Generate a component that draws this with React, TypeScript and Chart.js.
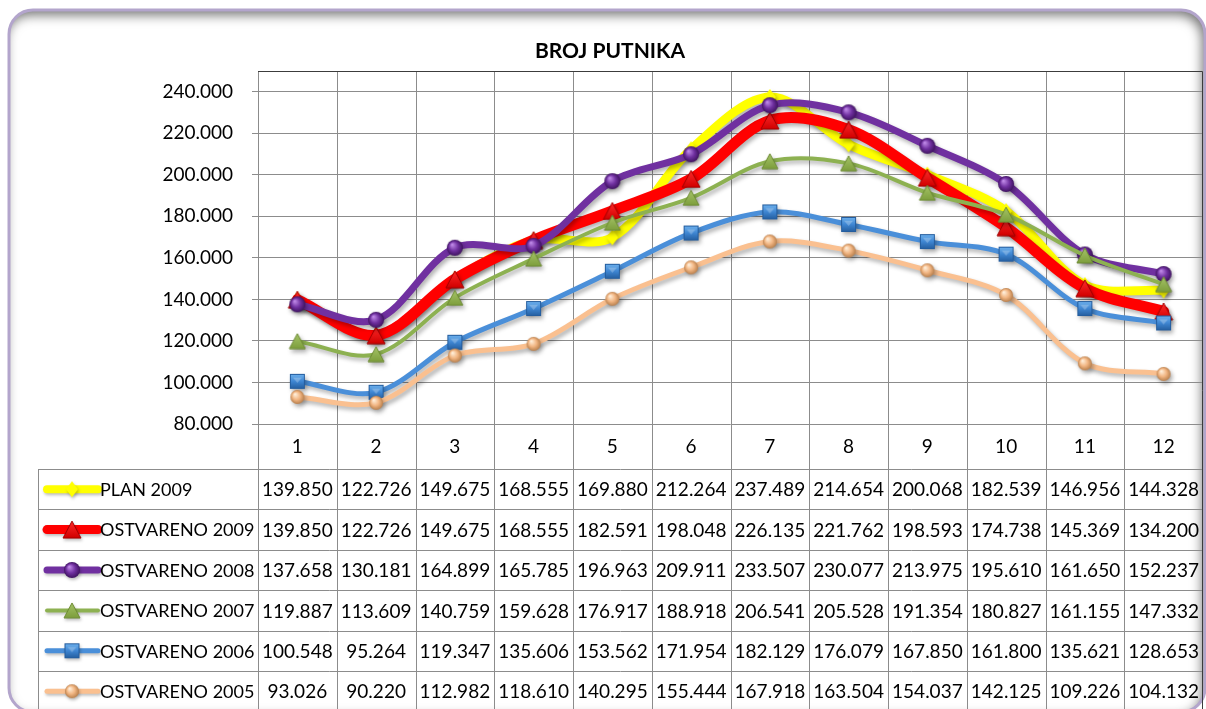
import React, { useEffect, useRef } from 'react';
import { Chart, registerables } from 'chart.js';

Chart.register(...registerables);

const chartTitle = 'BROJ PUTNIKA';
const categories = ['1', '2', '3', '4', '5', '6', '7', '8', '9', '10', '11', '12'];
const seriesNames = ['PLAN 2009', 'OSTVARENO 2009', 'OSTVARENO 2008', 'OSTVARENO 2007', 'OSTVARENO 2006', 'OSTVARENO 2005'];
const plan2009 = [139850, 122726, 149675, 168555, 169880, 212264, 237489, 214654, 200068, 182539, 146956, 144328];
const ostvareno2009 = [139850, 122726, 149675, 168555, 182591, 198048, 226135, 221762, 198593, 174738, 145369, 134200];
const ostvareno2008 = [137658, 130181, 164899, 165785, 196963, 209911, 233507, 230077, 213975, 195610, 161650, 152237];
const ostvareno2007 = [119887, 113609, 140759, 159628, 176917, 188918, 206541, 205528, 191354, 180827, 161155, 147332];
const ostvareno2006 = [100548, 95264, 119347, 135606, 153562, 171954, 182129, 176079, 167850, 161800, 135621, 128653];
const ostvareno2005 = [93026, 90220, 112982, 118610, 140295, 155444, 167918, 163504, 154037, 142125, 109226, 104132];
const yTickValues = [80000, 100000, 120000, 140000, 160000, 180000, 200000, 220000, 240000];
const yMin = 80000;
const yMax = 250000;

const FONT = 'Lato, "Open Sans", "DejaVu Sans", sans-serif';

function fmt(v: number): string {
  const s = String(Math.round(v));
  return s.length > 3 ? s.slice(0, -3) + '.' + s.slice(-3) : s;
}

function makeCanvas(w: number, h: number) {
  const cv = document.createElement('canvas');
  cv.width = w;
  cv.height = h;
  return cv;
}

function sphere(r: number, c0: string, c1: string, c2: string) {
  const s = Math.ceil(r * 2 + 2);
  const cv = makeCanvas(s, s);
  const g = cv.getContext('2d')!;
  const cx = s / 2, cy = s / 2;
  const grad = g.createRadialGradient(cx - r * 0.35, cy - r * 0.4, r * 0.05, cx, cy, r);
  grad.addColorStop(0, c0);
  grad.addColorStop(0.55, c1);
  grad.addColorStop(1, c2);
  g.fillStyle = grad;
  g.beginPath();
  g.arc(cx, cy, r, 0, Math.PI * 2);
  g.fill();
  return cv;
}

function square(size: number, c0: string, c1: string, c2: string) {
  const s = size + 2;
  const cv = makeCanvas(s, s);
  const g = cv.getContext('2d')!;
  const grad = g.createLinearGradient(0, 1, 0, size + 1);
  grad.addColorStop(0, c0);
  grad.addColorStop(0.5, c1);
  grad.addColorStop(1, c2);
  g.fillStyle = grad;
  g.fillRect(1, 1, size, size);
  g.fillStyle = 'rgba(255,255,255,0.25)';
  g.beginPath();
  g.moveTo(1 + size * 0.2, 1 + size * 0.25);
  g.lineTo(1 + size * 0.8, 1 + size * 0.25);
  g.lineTo(1 + size * 0.5, 1 + size * 0.6);
  g.closePath();
  g.fill();
  g.strokeStyle = c2;
  g.lineWidth = 1;
  g.strokeRect(1.5, 1.5, size - 1, size - 1);
  return cv;
}

function triangle(size: number, c0: string, c1: string, stroke: string) {
  const w = size + 2, h = Math.round(size * 0.95) + 2;
  const cv = makeCanvas(w, h);
  const g = cv.getContext('2d')!;
  const grad = g.createLinearGradient(0, 1, 0, h - 1);
  grad.addColorStop(0, c0);
  grad.addColorStop(1, c1);
  g.fillStyle = grad;
  g.beginPath();
  g.moveTo(w / 2, 1);
  g.lineTo(w - 1, h - 1);
  g.lineTo(1, h - 1);
  g.closePath();
  g.fill();
  g.strokeStyle = stroke;
  g.lineWidth = 1;
  g.stroke();
  return cv;
}

function diamond(w: number, h: number, color: string) {
  const cv = makeCanvas(w + 2, h + 2);
  const g = cv.getContext('2d')!;
  g.fillStyle = color;
  g.beginPath();
  g.moveTo((w + 2) / 2, 1);
  g.lineTo(w + 1, (h + 2) / 2);
  g.lineTo((w + 2) / 2, h + 1);
  g.lineTo(1, (h + 2) / 2);
  g.closePath();
  g.fill();
  return cv;
}

function roundRectPath(ctx: CanvasRenderingContext2D, x: number, y: number, w: number, h: number, r: number) {
  ctx.beginPath();
  ctx.moveTo(x + r, y);
  ctx.lineTo(x + w - r, y);
  ctx.arcTo(x + w, y, x + w, y + r, r);
  ctx.lineTo(x + w, y + h - r);
  ctx.arcTo(x + w, y + h, x + w - r, y + h, r);
  ctx.lineTo(x + r, y + h);
  ctx.arcTo(x, y + h, x, y + h - r, r);
  ctx.lineTo(x, y + r);
  ctx.arcTo(x, y, x + r, y, r);
  ctx.closePath();
}

export default function App() {
  const canvasRef = useRef<HTMLCanvasElement | null>(null);

  useEffect(() => {
    const canvas = canvasRef.current;
    if (!canvas) return;

    const markers = [
      diamond(12, 16, '#ffff00'),
      triangle(18, '#ff2a2a', '#d00000', '#a00000'),
      sphere(8, '#c08ae8', '#7030a0', '#3f1360'),
      triangle(16, '#a5c468', '#7d9e3c', '#6d8a34'),
      square(15, '#6fb2ee', '#3f86d2', '#245d9e'),
      sphere(7, '#fff0dc', '#f2b683', '#b9804d'),
    ];
    const colors = ['#ffff00', '#ff0000', '#7030a0', '#8db151', '#4a8fd9', '#fac090'];
    const widths = [9, 11, 7, 4, 5, 5];
    const legendWidths = [8, 9, 7, 4, 5, 5];
    const allData = [plan2009, ostvareno2009, ostvareno2008, ostvareno2007, ostvareno2006, ostvareno2005];

    const TABLE_TOP = 469;
    const ROW_H = 40.4;
    const LEGEND_LEFT = 38;
    const CANVAS_H = 709;
    const TARGET_RIGHT = 1203;

    const framePlugin = {
      id: 'frame',
      beforeDraw(chart: any) {
        const ctx: CanvasRenderingContext2D = chart.ctx;
        ctx.save();
        ctx.fillStyle = '#ffffff';
        ctx.fillRect(0, 0, chart.width, chart.height);
        const fx = 9, fy = 10, fw = 1196, fh = 702, fr = 24;
        ctx.save();
        roundRectPath(ctx, fx, fy, fw, fh, fr);
        ctx.clip();
        ctx.beginPath();
        ctx.rect(-100, -100, chart.width + 200, chart.height + 200);
        ctx.moveTo(fx + fr, fy);
        ctx.arcTo(fx, fy, fx, fy + fr, fr);
        ctx.lineTo(fx, fy + fh - fr);
        ctx.arcTo(fx, fy + fh, fx + fr, fy + fh, fr);
        ctx.lineTo(fx + fw - fr, fy + fh);
        ctx.arcTo(fx + fw, fy + fh, fx + fw, fy + fh - fr, fr);
        ctx.lineTo(fx + fw, fy + fr);
        ctx.arcTo(fx + fw, fy, fx + fw - fr, fy, fr);
        ctx.closePath();
        ctx.shadowColor = 'rgba(0,0,0,0.55)';
        ctx.shadowBlur = 12;
        ctx.shadowOffsetX = -3;
        ctx.shadowOffsetY = 5;
        ctx.fillStyle = '#888';
        ctx.fill('evenodd');
        ctx.restore();
        roundRectPath(ctx, fx, fy, fw, fh, fr);
        ctx.strokeStyle = '#b3a5cc';
        ctx.lineWidth = 3;
        ctx.stroke();
        ctx.fillStyle = '#000';
        ctx.font = `bold 21px ${FONT}`;
        ctx.textAlign = 'center';
        ctx.textBaseline = 'middle';
        ctx.fillText(chartTitle, 610, 51);
        ctx.restore();
      },
      beforeDatasetsDraw(chart: any) {
        const ctx: CanvasRenderingContext2D = chart.ctx;
        const { left, right, top } = chart.chartArea;
        const n = categories.length;
        const w = (right - left) / n;
        ctx.save();
        ctx.strokeStyle = '#8c8c8c';
        ctx.lineWidth = 1;
        for (let i = 0; i < n; i++) {
          const x = Math.round(left + i * w) + 0.5;
          ctx.beginPath();
          ctx.moveTo(x, top);
          ctx.lineTo(x, CANVAS_H);
          ctx.stroke();
        }
        for (let r = 0; r <= seriesNames.length; r++) {
          const y = Math.round(TABLE_TOP + r * ROW_H) + 0.5;
          ctx.beginPath();
          ctx.moveTo(LEGEND_LEFT, y);
          ctx.lineTo(right, y);
          ctx.stroke();
        }
        ctx.beginPath();
        ctx.moveTo(LEGEND_LEFT + 0.5, TABLE_TOP);
        ctx.lineTo(LEGEND_LEFT + 0.5, CANVAS_H);
        ctx.stroke();
        ctx.strokeStyle = '#3c3c3c';
        ctx.beginPath();
        ctx.moveTo(left, Math.round(top) + 0.5);
        ctx.lineTo(Math.round(right) - 0.5, Math.round(top) + 0.5);
        ctx.lineTo(Math.round(right) - 0.5, CANVAS_H);
        ctx.stroke();
        ctx.restore();
      },
      afterDraw(chart: any) {
        const ctx: CanvasRenderingContext2D = chart.ctx;
        const xs = chart.scales.x;
        ctx.save();
        ctx.textBaseline = 'middle';
        for (let r = 0; r < seriesNames.length; r++) {
          const cy = TABLE_TOP + (r + 0.5) * ROW_H;
          ctx.save();
          ctx.shadowColor = 'rgba(0,0,0,0.25)';
          ctx.shadowBlur = 3;
          ctx.shadowOffsetX = 1;
          ctx.shadowOffsetY = 2;
          ctx.strokeStyle = colors[r];
          ctx.lineWidth = legendWidths[r];
          ctx.lineCap = 'round';
          ctx.beginPath();
          ctx.moveTo(47, cy);
          ctx.lineTo(98, cy);
          ctx.stroke();
          const m = markers[r];
          ctx.drawImage(m, 72 - m.width / 2, cy - m.height / 2);
          ctx.restore();
          ctx.fillStyle = '#000';
          ctx.font = `18px ${FONT}`;
          ctx.textAlign = 'left';
          ctx.fillText(seriesNames[r], 100, cy + 1);
          ctx.font = `19px ${FONT}`;
          ctx.textAlign = 'center';
          const data = allData[r];
          for (let i = 0; i < data.length; i++) {
            ctx.fillText(fmt(data[i]), xs.getPixelForValue(i), cy + 1);
          }
        }
        ctx.restore();
      },
    };

    const shadowPlugin = {
      id: 'shadow',
      beforeDatasetDraw(chart: any) {
        const c = chart.ctx;
        c.save();
        c.shadowColor = 'rgba(0,0,0,0.3)';
        c.shadowBlur = 4;
        c.shadowOffsetX = 2;
        c.shadowOffsetY = 3;
      },
      afterDatasetDraw(chart: any) {
        chart.ctx.restore();
      },
    };

    const datasets = seriesNames.map((name, i) => ({
      label: name,
      data: allData[i],
      borderColor: colors[i],
      backgroundColor: colors[i],
      borderWidth: widths[i],
      pointStyle: markers[i],
      pointRadius: 8,
      tension: 0.33,
      fill: false,
      order: seriesNames.length - i,
      borderCapStyle: 'round' as const,
      borderJoinStyle: 'round' as const,
      clip: false as const,
    }));

    const padding = { left: 0, top: 71, right: 1206 - TARGET_RIGHT, bottom: 240 };

    const chart = new Chart(canvas, {
      type: 'line',
      data: { labels: categories, datasets },
      options: {
        responsive: false,
        animation: false,
        layout: { autoPadding: false, padding },
        plugins: {
          legend: { display: false },
          tooltip: { enabled: false },
          title: { display: false },
        },
        scales: {
          x: {
            offset: true,
            grid: { display: false, drawTicks: false },
            border: { display: false },
            ticks: { color: '#000', font: { family: FONT, size: 19 }, padding: 11, maxRotation: 0, autoSkip: false },
            afterFit: (scale: any) => {
              scale.height = 45;
              scale.paddingLeft = 0;
              scale.paddingRight = 0;
            },
          },
          y: {
            min: yMin,
            max: yMax,
            border: { display: false },
            grid: { color: '#8c8c8c', lineWidth: 1, tickLength: 6, drawTicks: true },
            ticks: {
              color: '#000',
              font: { family: FONT, size: 19 },
              padding: 19,
              callback: (v: any) => fmt(Number(v)),
            },
            afterBuildTicks: (scale: any) => {
              scale.ticks = yTickValues.map((v) => ({ value: v }));
            },
            afterFit: (scale: any) => {
              scale.width = 258;
              scale.paddingTop = 0;
              scale.paddingBottom = 0;
            },
          },
        },
      },
      plugins: [framePlugin, shadowPlugin],
    });

    const diff = chart.chartArea.right - TARGET_RIGHT;
    if (Math.abs(diff) > 0.5) {
      (chart.options.layout as any).padding = { ...padding, right: padding.right + diff };
      chart.update();
    }

    return () => chart.destroy();
  }, []);

  return (
    <div style={{ position: 'fixed', left: 0, top: 0, width: 1206, height: 709, background: '#fff' }}>
      <canvas ref={canvasRef} width={1206} height={709} style={{ width: 1206, height: 709, display: 'block' }} />
    </div>
  );
}
